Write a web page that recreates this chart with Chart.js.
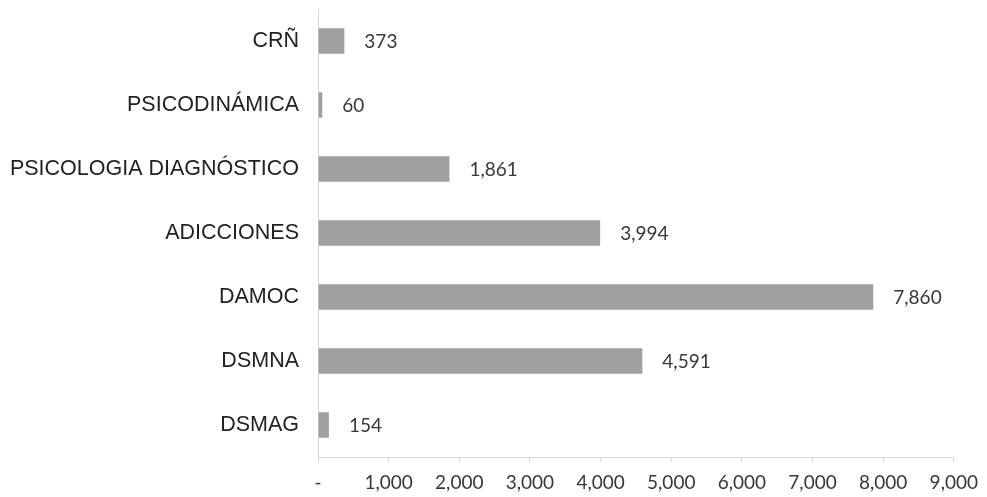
<!DOCTYPE html>
<html>
<head>
<meta charset="utf-8">
<script src="https://cdn.jsdelivr.net/npm/chart.js@4"></script>
<style>
  html, body { margin: 0; padding: 0; background: #fff; }
  #wrap { width: 987px; height: 497px; }
</style>
</head>
<body>
<div id="wrap"><canvas id="bars" width="987" height="497"></canvas></div>
<script>
// categories top to bottom
const categories = ["CRÑ", "PSICODINÁMICA", "PSICOLOGIA DIAGNÓSTICO", "ADICCIONES", "DAMOC", "DSMNA", "DSMAG"];
const values = [373, 60, 1861, 3994, 7860, 4591, 154];
const xTicks = [0, 1000, 2000, 3000, 4000, 5000, 6000, 7000, 8000, 9000];

const fmt = (v) => v === 0 ? "-" : v.toLocaleString("en-US");

// writes the value to the right of each bar
const barLabels = {
    id: "barLabels",
    afterDatasetsDraw(chart) {
        const ctx = chart.ctx;
        const meta = chart.getDatasetMeta(0);
        ctx.save();
        ctx.font = "19px Lato";
        ctx.fillStyle = "#383838";
        ctx.textAlign = "left";
        ctx.textBaseline = "middle";
        meta.data.forEach((bar, i) => {
            ctx.fillText(fmt(values[i]), bar.x + 20, bar.y + 1);
        });
        ctx.restore();
    }
};

new Chart("bars", {
    type: "bar",
    data: {
        labels: categories,
        datasets: [{
            data: values,
            backgroundColor: "#a0a0a0",
            borderWidth: 0,
            categoryPercentage: 1,
            barPercentage: 0.4
        }]
    },
    options: {
        indexAxis: "y",
        responsive: false,
        animation: false,
        layout: { padding: { top: 9, right: 26, left: 0, bottom: 0 } },
        plugins: {
            legend: { display: false },
            tooltip: { enabled: false }
        },
        scales: {
            x: {
                min: 0,
                max: 9000,
                afterBuildTicks: (scale) => { scale.ticks = xTicks.map(v => ({ value: v })); },
                afterFit: (scale) => { scale.height = 40; },
                grid: { drawOnChartArea: false, drawTicks: true, tickLength: 5, color: "#d9d9d9" },
                border: { display: true, color: "#d9d9d9" },
                ticks: {
                    font: { family: "Lato", size: 19 },
                    color: "#383838",
                    padding: 9,
                    maxRotation: 0,
                    autoSkip: false,
                    callback: (v) => fmt(v)
                }
            },
            y: {
                afterFit: (scale) => {
                    scale.width = 318;
                    scale.paddingTop = 0;
                    scale.paddingBottom = 0;
                },
                grid: { display: false, drawTicks: false },
                border: { display: true, color: "#d9d9d9" },
                ticks: {
                    font: { family: "Liberation Sans", size: 21.5 },
                    color: "#222",
                    padding: 19
                }
            }
        }
    },
    plugins: [barLabels]
});
</script>
</body>
</html>
